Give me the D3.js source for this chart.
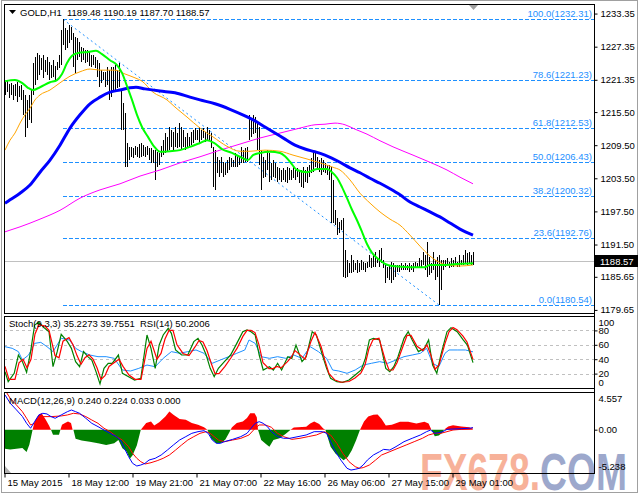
<!DOCTYPE html>
<html><head><meta charset="utf-8">
<script src="https://cdn.jsdelivr.net/npm/d3@7/dist/d3.min.js"></script>
<style>
html,body{margin:0;padding:0;background:#fff;}
svg{display:block;font-family:"Liberation Sans",Arial,sans-serif;}
</style></head><body>
<svg id="c" width="640" height="495"></svg>
<script>
// ---------------- DATA ----------------
const symbolTitle = "GOLD,H1  1189.48 1190.19 1187.70 1188.57";
const lastPrice = 1188.57;

const highs = [
1220.9,1221.3,1220.6,1220.8,1220.4,1220.6,1220.9,1220.2,1220.4,1219.5,
1218.6,1217.7,1218.6,1219.5,1224.4,1225.5,1226.2,1225.8,1225.3,1225.8,
1224.9,1225.5,1224.6,1224.0,1224.9,1223.8,1224.6,1225.8,1230.4,1232.31,
1230.7,1230.4,1231.3,1230.9,1229.8,1229.1,1228.9,1228.2,1227.3,1227.1,
1226.7,1226.7,1226.4,1225.8,1225.8,1225.5,1224.9,1224.4,1223.1,1222.8,
1222.8,1223.7,1223.1,1223.7,1223.7,1224.0,1223.1,1224.4,1219.5,1217.1,
1215.3,1209.9,1209.2,1209.2,1209.0,1209.3,1209.2,1209.7,1209.9,1209.5,
1209.2,1209.3,1209.0,1209.0,1208.6,1208.6,1208.3,1208.1,1209.3,1210.4,
1211.7,1211.0,1212.8,1212.2,1211.9,1212.8,1211.7,1213.5,1212.8,1212.2,
1211.0,1211.7,1211.0,1211.9,1212.2,1212.6,1212.2,1212.8,1212.2,1212.6,
1211.9,1212.8,1212.2,1211.7,1209.2,1208.6,1207.4,1206.8,1207.4,1206.4,
1206.3,1206.8,1207.4,1207.2,1206.8,1208.1,1207.7,1207.4,1209.2,1208.6,
1209.0,1209.2,1215.0,1214.1,1215.0,1214.6,1213.5,1212.8,1208.6,1207.4,
1206.8,1208.6,1208.1,1206.3,1206.8,1206.3,1205.5,1205.4,1205.0,1205.4,
1205.0,1205.5,1205.4,1205.0,1205.5,1205.0,1205.4,1205.0,1205.0,1205.5,
1205.0,1205.5,1205.9,1207.2,1208.6,1208.1,1207.4,1206.8,1207.2,1206.8,
1206.3,1205.9,1205.9,1205.5,1203.2,1197.8,1196.3,1195.6,1195.9,1196.3,
1190.5,1188.7,1188.1,1189.6,1188.7,1188.1,1188.7,1188.1,1188.7,1188.3,
1188.1,1188.3,1189.6,1189.1,1189.6,1190.1,1189.1,1190.5,1190.9,1188.7,
1188.1,1187.4,1187.8,1188.3,1188.1,1187.8,1187.8,1187.8,1188.1,1187.8,
1188.1,1187.8,1188.1,1187.8,1188.1,1188.3,1188.1,1189.1,1188.7,1190.1,
1189.6,1192.0,1189.2,1188.1,1190.1,1188.7,1189.2,1189.6,1188.7,1188.7,
1188.7,1189.1,1188.3,1189.1,1188.7,1189.2,1188.3,1189.6,1188.7,1189.6,
1190.5,1190.0,1190.1,1189.6,1190.19
];
const lows = [
1218.6,1219.1,1218.0,1218.6,1217.7,1218.4,1217.3,1218.2,1217.7,1215.0,
1211.0,1212.6,1214.1,1213.5,1218.6,1220.4,1221.3,1222.2,1223.1,1221.7,
1222.8,1222.2,1221.3,1221.7,1221.8,1221.3,1223.1,1223.5,1224.0,1227.6,
1226.7,1227.1,1228.0,1228.6,1223.7,1222.6,1224.9,1225.5,1224.6,1224.9,
1224.4,1224.6,1223.8,1223.7,1224.0,1223.5,1221.8,1220.0,1220.8,1221.3,
1220.0,1220.4,1217.7,1218.2,1219.1,1219.5,1219.9,1220.0,1212.2,1212.2,
1205.5,1205.5,1206.8,1207.4,1207.2,1207.7,1207.4,1207.2,1207.4,1207.5,
1207.4,1207.7,1206.8,1206.3,1206.3,1203.2,1205.5,1205.9,1207.4,1207.7,
1208.1,1208.3,1208.6,1209.2,1208.6,1209.2,1209.0,1209.2,1208.6,1209.2,
1208.6,1209.2,1209.2,1209.5,1209.9,1210.4,1210.4,1209.9,1210.4,1210.8,
1210.1,1210.4,1210.4,1209.0,1201.9,1201.4,1204.5,1203.7,1204.5,1203.7,
1204.1,1204.5,1205.0,1205.5,1205.5,1205.5,1205.5,1205.9,1206.3,1206.3,
1206.4,1206.4,1210.4,1211.0,1211.5,1211.7,1208.6,1205.9,1201.4,1203.5,
1203.7,1205.0,1202.8,1203.2,1203.7,1203.5,1202.8,1203.2,1202.8,1203.2,
1202.8,1202.6,1203.2,1203.2,1203.5,1203.2,1203.7,1202.6,1201.9,1201.7,
1202.8,1202.6,1203.7,1204.5,1204.6,1205.5,1205.0,1204.6,1204.1,1204.6,
1204.5,1204.1,1203.2,1195.4,1195.4,1195.0,1193.2,1193.6,1194.1,1185.6,
1185.4,1185.6,1186.3,1186.3,1186.5,1186.9,1186.3,1186.5,1186.9,1186.9,
1186.5,1187.2,1187.4,1187.2,1187.4,1187.4,1188.1,1187.4,1188.1,1187.2,
1184.5,1185.4,1185.1,1184.5,1185.1,1185.6,1186.5,1186.5,1186.9,1186.9,
1186.9,1186.9,1186.5,1186.9,1186.5,1187.2,1187.2,1187.4,1187.2,1187.8,
1186.9,1185.6,1186.0,1186.3,1186.9,1185.1,1185.6,1180.54,1183.3,1186.9,
1187.4,1187.8,1187.2,1187.4,1187.4,1187.8,1187.4,1187.4,1187.8,1187.8,
1188.1,1187.8,1188.1,1187.8,1187.70
];

// moving averages: [bar index, price]
const maGreen = [[0,1221.1],[5,1221.3],[8.5,1220.8],[11.5,1219.9],[14,1219.5],[17.5,1220.0],[22.5,1220.9],[26,1221.3],[28.5,1222.4],[31,1224.4],[33.5,1225.7],[36.5,1226.2],[41.5,1226.4],[45.5,1226.6],[48.5,1226.0],[52.5,1224.9],[56,1224.0],[58.5,1222.6],[61,1220.2],[63.5,1217.7],[66,1215.0],[68.5,1212.8],[71.5,1211.0],[74.5,1209.3],[77.5,1208.3],[82.5,1208.4],[87.5,1208.6],[92.5,1209.2],[97.5,1209.9],[101,1210.4],[104.5,1209.9],[108.5,1208.8],[113.5,1208.1],[118.5,1207.2],[121.5,1206.8],[124,1207.7],[127.5,1208.1],[132.5,1208.3],[137.5,1208.1],[140,1207.5],[142.5,1206.5],[146,1205.0],[151,1204.6],[156,1205.2],[161,1205.2],[163.5,1204.6],[166,1203.6],[168.5,1201.9],[171,1199.9],[173.5,1197.8],[176,1195.9],[178.5,1193.8],[181,1191.6],[183.5,1190.0],[186.5,1188.9],[190,1188.0],[193.5,1187.6],[202.5,1187.4],[210,1187.4],[212.5,1187.8],[220,1187.8],[227.5,1188.0],[234,1188.1]];
const maOrange = [[0,1208.6],[2.5,1210.4],[5,1211.7],[7.5,1213.5],[10,1215.0],[12.5,1216.2],[15,1217.7],[17.5,1218.6],[22.5,1219.5],[27.5,1220.8],[32.5,1222.0],[37.5,1222.8],[42.5,1223.3],[47.5,1223.1],[55,1223.1],[60,1222.4],[65,1221.7],[68.5,1221.1],[74,1219.1],[81,1217.7],[85,1216.4],[91,1214.6],[97.5,1212.6],[104,1211.0],[111,1209.3],[117.5,1208.4],[122.5,1208.4],[130,1208.6],[137.5,1208.4],[144,1207.7],[151,1207.0],[157.5,1206.3],[164,1205.5],[167.5,1205.0],[172.5,1203.2],[177.5,1200.8],[182.5,1199.0],[187.5,1197.4],[192.5,1196.1],[197.5,1195.0],[202.5,1193.2],[207.5,1191.2],[212.5,1189.4],[216,1188.5],[221,1187.8],[227.5,1187.6],[234,1187.8]];
const maBlue = [[0,1199.0],[2.5,1199.6],[7.5,1200.8],[12.5,1202.3],[17.5,1204.6],[22.5,1206.8],[27.5,1209.5],[32.5,1212.6],[37.5,1215.0],[42.5,1217.0],[47.5,1218.2],[52.5,1219.1],[57.5,1219.5],[62.5,1219.9],[65.5,1220.0],[70,1219.7],[77.5,1219.3],[85,1219.0],[92.5,1218.2],[97.5,1217.7],[105,1217.0],[112.5,1216.0],[120,1214.8],[125,1213.9],[130,1212.8],[135,1211.7],[140,1210.6],[145,1209.5],[150,1208.8],[155,1208.3],[160,1207.7],[167.5,1206.4],[172.5,1205.4],[177.5,1204.5],[182.5,1203.5],[187.5,1202.6],[192.5,1201.6],[197.5,1200.5],[202.5,1199.2],[207.5,1198.3],[212.5,1197.4],[217.5,1196.5],[222.5,1195.4],[227.5,1194.3],[234,1193.2]];
const maMagenta = [[0,1193.8],[7.5,1194.7],[17.5,1196.1],[27.5,1197.7],[37.5,1199.9],[47.5,1201.4],[57.5,1202.5],[67.5,1203.9],[77.5,1205.0],[87.5,1206.3],[97.5,1207.4],[107.5,1208.6],[117.5,1209.7],[127.5,1210.8],[137.5,1211.7],[147.5,1212.6],[155,1213.2],[160,1213.3],[165,1213.5],[170,1213.2],[175,1212.4],[181,1211.5],[187.5,1210.3],[194,1209.2],[204,1207.7],[212.5,1206.4],[221,1205.0],[227.5,1203.7],[234,1202.5]];

// Fibonacci retracement (anchored high bar -> low bar)
const fibLevels = ["100.0","78.6","61.8","50.0","38.2","23.6","0.0"];
const fibPrices = [1232.31,1221.23,1212.53,1206.43,1200.32,1192.76,1180.54];
const fibHighIdx = 29, fibLowIdx = 217;

const priceTicks = [1233.35,1227.35,1221.35,1215.50,1209.50,1203.50,1197.50,1191.50,1185.65,1179.65];

const timeIdx = [0,32,64,96,128,160,192,224];
const timeLabels = ["15 May 2015","18 May 12:00","19 May 21:00","21 May 07:00","22 May 16:00","26 May 06:00","27 May 15:00","29 May 01:00"];

// Stochastic (9,3,3) and RSI(14): [bar index, value]
const stochLabel = "Stoch(9,3,3) 35.2273 39.7551  RSI(14) 50.2006";
const stochMain = [[0,22.7],[1.6,8.8],[4.6,20.4],[6.7,45.8],[8.7,36.6],[10.8,21.8],[12.8,50.5],[14.8,87.5],[16.9,91.2],[19.9,82.9],[22,78.2],[24,29.6],[26.1,50.5],[28.1,74.5],[31.2,64.4],[33.2,55.1],[35.3,36.6],[37.3,29.6],[39.3,50.5],[41.4,43.5],[43.4,38.9],[45.5,22.7],[47.5,5.6],[49.5,27.3],[51.6,34.3],[53.6,34.3],[56.7,45.8],[58.7,20.4],[61.8,15.7],[64.8,11.1],[67.9,13.4],[71,73.6],[73,55.1],[75.1,27.3],[77.1,59.7],[79.1,73.6],[81.6,82.9],[83.2,75.9],[85.3,52.8],[88.3,45.8],[91.4,45.8],[94.4,64.4],[96.5,69.0],[98.5,59.7],[100.6,45.8],[102.6,27.3],[104.6,15.7],[106.7,27.3],[109.7,36.6],[112.8,45.8],[115.9,62.0],[118.9,78.2],[121,80.6],[123,78.2],[125.1,73.6],[127.1,45.8],[129.1,25.0],[132.2,29.6],[134.2,25.0],[136.3,34.3],[138.3,25.0],[141.4,43.5],[143.4,41.2],[145.5,59.7],[148.5,36.6],[150.6,43.5],[153.6,78.2],[155.7,73.6],[158.7,45.8],[160.8,27.3],[162.8,13.4],[165.9,8.8],[168.9,7.9],[172,11.1],[175.1,18.1],[178.1,25.0],[180.2,41.2],[182.2,66.7],[184.2,69.0],[187.3,66.7],[190.4,27.3],[192.4,22.7],[194.4,29.6],[196.5,43.5],[199.5,69.0],[201.6,78.2],[203.6,66.7],[206.7,50.5],[209.7,55.1],[211.8,66.7],[213.8,31.9],[215.9,20.4],[217.9,45.8],[221,78.2],[223,83.8],[226.1,78.2],[229.1,66.7],[231.2,59.7],[234,35.2]];
const stochSignal = [[0,30],[2,12],[5,12],[7,35],[9,40],[11,28],[13,40],[15,75],[17,88],[20,86],[22,80],[25,45],[27,42],[29,65],[32,70],[34,60],[36,45],[38,33],[40,42],[42,46],[44,40],[46,28],[48,12],[50,17],[52,30],[54,34],[57,40],[59,30],[62,18],[65,12],[68,12],[71,55],[73,65],[76,40],[78,48],[80,68],[82,80],[84,80],[86,60],[89,48],[92,45],[95,57],[97,66],[99,64],[101,52],[103,35],[105,20],[107,20],[110,30],[113,42],[116,55],[119,72],[121,80],[123,80],[125,77],[127,60],[129,35],[132,27],[134,27],[136,30],[138,28],[141,36],[143,42],[145,52],[148,45],[150,40],[153,65],[155,77],[158,58],[160,38],[162,20],[165,11],[168,8],[172,9],[175,14],[178,21],[180,32],[182,55],[184,67],[187,69],[190,40],[192,25],[194,25],[196,35],[199,58],[201,73],[203,73],[206,58],[209,52],[211,60],[213,45],[215,26],[217,32],[220,62],[222,78],[224,84],[226,81],[229,72],[231,64],[234,39.8]];
const rsi = [[0,57.4],[3.6,55.1],[6.7,50.5],[8.7,38.9],[11.8,45.8],[14.8,62.0],[17.9,63.4],[21,57.4],[24,50.5],[28.1,69.0],[32.2,66.7],[35.3,55.1],[38.3,50.5],[42.4,45.8],[46.5,43.5],[50.6,43.5],[54.6,41.2],[58.7,25.0],[62.8,23.6],[66.9,27.3],[71,31.9],[75.1,29.6],[79.1,41.2],[83.2,50.5],[87.3,48.2],[91.4,50.5],[95.5,52.8],[99.5,48.2],[103.6,34.3],[107.7,38.9],[111.8,43.5],[115.9,48.2],[119.9,52.8],[122,66.7],[125.1,62.0],[128.1,43.5],[132.2,41.2],[136.3,43.5],[140.4,41.2],[144.4,45.8],[148.5,41.2],[152.6,57.4],[156.7,50.5],[160.8,41.2],[163.8,25.0],[166.9,23.6],[171,20.4],[175.1,25.0],[179.1,31.9],[183.2,34.3],[187.3,36.6],[191.4,34.3],[195.5,38.9],[199.5,43.5],[203.6,45.8],[207.7,48.2],[210.8,55.1],[213.8,34.3],[216.9,29.6],[220,48.2],[222,52.8],[226.1,52.8],[230.2,52.8],[234,50.2]];
const stochTicks = [100,80,60,40,20,0];
const stochGrid = [80,60,40,20];

// MACD(12,26,9)
const macdLabel = "MACD(12,26,9) 0.240 0.224 0.033 0.000";
const macdTicks = [4.557,0,-5.238];
const macdHist = [[0,-2.3],[2.6,-2.4],[5.7,-2.3],[8.7,-2.2],[10.8,-2.7],[12.2,-1.8],[13.8,0],[14.8,1.0],[16.9,1.8],[18.3,2.0],[20.4,1.2],[22,0.5],[23,0],[24,-0.6],[27,-0.6],[27.7,0],[28.5,0.6],[30,0.8],[31.5,1.0],[33,0.8],[33.8,0],[34.2,0],[35.3,-1.1],[38.3,-1.3],[42.4,-1.45],[46.5,-1.65],[50.6,-1.85],[54.6,-1.65],[56.7,-1.25],[58.7,-2.25],[60.8,-2.65],[62.4,-3.5],[63.8,-3.1],[65.9,-1.9],[67.9,0],[68.9,0.3],[70.6,0.8],[73,1.0],[74.6,0.5],[77.1,0.9],[80.2,1.6],[82.2,2.2],[84.2,1.8],[87.3,1.3],[90.4,1.2],[93.4,0.8],[96.5,0.6],[99.5,0.3],[101.2,0],[103.2,-1.1],[105.7,-1.65],[108.1,-1.6],[110.2,-1.2],[112.2,-0.3],[112.8,0],[113.5,0.3],[115.9,0.8],[118.9,1.0],[121,1.4],[122.6,2.0],[124.8,2.0],[125.9,1.5],[126.5,0],[128.1,-1.25],[130.6,-1.75],[132.2,-2.05],[134.2,-1.25],[137.3,-1.05],[140.4,-0.5],[142.8,0],[144.4,0.25],[150.6,0.35],[152.6,0.75],[154.6,1.0],[157.1,0.7],[159.1,0.15],[160.2,0],[162.8,-2.05],[165.3,-2.9],[167.3,-3.3],[169.3,-3.7],[171.4,-3.3],[173.4,-2.5],[175.5,-1.3],[177.5,0],[179.5,1.0],[181.6,1.6],[184.2,1.8],[186.3,1.85],[188.3,1.3],[190.4,0.5],[193.4,0.6],[197.5,0.95],[201.6,0.95],[205.7,0.75],[209.7,0.95],[211.8,0.75],[213.2,0],[214.9,-0.8],[216.9,-0.7],[218.9,-0.3],[219.5,0],[221.6,0.4],[224,0.55],[228.1,0.4],[232.2,0.3],[234,0.033]];
const macdMain = [[0,4.2],[2.6,3.2],[5.7,2.4],[8.7,1.6],[10.8,0.77],[12.8,0.17],[14.8,0.97],[16.9,1.78],[18.9,1.98],[21,1.9],[23,1.58],[25.1,1.38],[28.1,1.78],[31.2,2.18],[33.2,2.38],[35.3,2.18],[37.3,1.98],[40.4,1.38],[43.4,0.77],[46.5,0.37],[49.5,-0.04],[52.6,-0.44],[55.7,-0.84],[57.7,-1.25],[59.7,-2.25],[61.8,-3.26],[63.8,-4.07],[65.9,-4.39],[67.9,-4.27],[70,-4.07],[72,-3.67],[75.1,-3.46],[78.1,-3.06],[81.2,-2.46],[84.2,-1.85],[87.3,-1.25],[90.4,-0.84],[93.4,-0.44],[96.5,-0.24],[99.5,-0.12],[101.6,-0.44],[103.6,-1.25],[105.7,-1.65],[107.7,-1.65],[109.7,-1.45],[113.8,-1.17],[117.9,-0.84],[121,-0.44],[123,0.17],[125.1,0.77],[127.1,0.97],[129.1,0.77],[131.2,0.37],[133.2,-0.24],[136.3,-0.84],[139.3,-1.04],[142.4,-1.04],[146.5,-0.84],[150.6,-0.64],[154.6,-0.24],[158.7,-0.24],[160.8,-0.44],[162.8,-1.45],[164.8,-2.46],[167.9,-3.67],[171,-4.67],[173,-4.88],[175.1,-4.79],[177.1,-4.67],[179.1,-4.27],[181.2,-3.67],[184.2,-3.06],[187.3,-2.66],[189.3,-2.38],[192.4,-2.46],[195.5,-2.05],[199.5,-1.45],[203.6,-1.04],[207.7,-0.64],[210.8,-0.24],[212.8,-0.04],[214.9,-0.44],[216.9,-0.36],[218.9,-0.24],[221,0.04],[224,0.08],[228.1,0.12],[232.2,0.18],[234,0.24]];
const macdSignal = [[0,4.8],[2.6,3.79],[5.7,2.99],[8.7,2.18],[10.8,1.38],[12.8,0.57],[14.8,0.77],[16.9,1.38],[18.9,1.58],[23,1.58],[28.1,1.66],[31.2,1.78],[34.2,1.98],[37.3,1.9],[40.4,1.58],[43.4,1.17],[46.5,0.77],[49.5,0.17],[52.6,-0.24],[55.7,-0.84],[58.7,-1.25],[61.8,-2.05],[63.8,-2.86],[65.9,-3.46],[67.9,-3.87],[70,-4.15],[73,-3.99],[76.1,-3.75],[79.1,-3.46],[82.2,-3.06],[85.3,-2.46],[88.3,-1.85],[91.4,-1.25],[94.4,-0.84],[97.5,-0.44],[100.6,-0.24],[102.6,-0.44],[104.6,-0.84],[106.7,-1.25],[109.7,-1.45],[113.8,-1.25],[117.9,-1.05],[122,-0.64],[125.1,0.17],[127.1,0.57],[130.2,0.57],[133.2,0.29],[136.3,-0.44],[139.3,-0.84],[143.4,-1.17],[147.5,-1.04],[151.6,-0.84],[155.7,-0.64],[159.7,-0.24],[162.8,-0.64],[165.9,-1.65],[168.9,-2.86],[172,-3.87],[175.1,-4.47],[177.1,-4.67],[179.1,-4.59],[182.2,-4.27],[185.3,-3.67],[188.3,-3.06],[192.4,-2.66],[196.5,-2.25],[200.6,-1.85],[204.6,-1.45],[208.7,-1.04],[211.8,-0.64],[214.9,-0.44],[217.9,-0.44],[221,-0.24],[224,-0.04],[228.1,0.04],[232.2,0.1],[234,0.22]];

// ---------------- LAYOUT ----------------
const svg = d3.select("#c");
const L = 4, R = 594;
const main = {top:4, bottom:313};
const sub1 = {top:316, bottom:388};
const sub2 = {top:392, bottom:473};

const x = d3.scaleLinear().domain([0,234]).range([5,473]);
const yP = d3.scaleLinear().domain([1180.54,1232.31]).range([305,19.3]);
const yS = d3.scaleLinear().domain([0,100]).range([sub1.bottom, sub1.top]);
const yM = d3.scaleLinear().domain([-5.238,4.557]).range([sub2.bottom, sub2.top]);

svg.append("rect").attr("width",640).attr("height",495).attr("fill","#fff");

const defs = svg.append("defs");
[["clipMain",main],["clipS",sub1],["clipM",sub2]].forEach(([id,p])=>{
  defs.append("clipPath").attr("id",id).append("rect")
    .attr("x",L).attr("y",p.top).attr("width",R-L).attr("height",p.bottom-p.top);
});

const gMain = svg.append("g").attr("clip-path","url(#clipMain)");
const FIB = "#1e90ff";

// fib horizontal lines
gMain.selectAll(".fib").data(fibPrices).enter().append("line")
  .attr("x1",x(fibHighIdx)).attr("x2",R)
  .attr("y1",d=>Math.round(yP(d))+0.5).attr("y2",d=>Math.round(yP(d))+0.5)
  .attr("stroke",FIB).attr("stroke-width",1).attr("stroke-dasharray","4,2");
// fib trend line
gMain.append("line")
  .attr("x1",x(fibHighIdx)).attr("y1",yP(fibPrices[0]))
  .attr("x2",x(fibLowIdx)).attr("y2",yP(fibPrices[fibPrices.length-1]))
  .attr("stroke",FIB).attr("stroke-width",1).attr("stroke-dasharray","2,3");

// last price line
gMain.append("line").attr("x1",L).attr("x2",R)
  .attr("y1",Math.round(yP(lastPrice))+0.5).attr("y2",Math.round(yP(lastPrice))+0.5)
  .attr("stroke","#c0c0c0");

// bars
gMain.selectAll(".bar").data(highs).enter().append("line")
  .attr("x1",(d,i)=>Math.round(x(i))+0.5).attr("x2",(d,i)=>Math.round(x(i))+0.5)
  .attr("y1",d=>yP(d)).attr("y2",(d,i)=>yP(lows[i]))
  .attr("stroke","#000").attr("stroke-width",1).attr("shape-rendering","crispEdges");

const lineP = d3.line().x(d=>x(d[0])).y(d=>yP(d[1])).curve(d3.curveMonotoneX);
gMain.append("path").attr("d",lineP(maMagenta)).attr("fill","none").attr("stroke","#ff00ff").attr("stroke-width",1);
gMain.append("path").attr("d",lineP(maOrange)).attr("fill","none").attr("stroke","#ffa500").attr("stroke-width",1);
gMain.append("path").attr("d",lineP(maBlue)).attr("fill","none").attr("stroke","#0000ff").attr("stroke-width",3);
gMain.append("path").attr("d",lineP(maGreen)).attr("fill","none").attr("stroke","#00ff00").attr("stroke-width",2);

// fib labels
svg.selectAll(".fibt").data(fibPrices).enter().append("text")
  .attr("x",R-2).attr("y",d=>Math.round(yP(d))-2)
  .attr("text-anchor","end").attr("font-size","9.5px").attr("fill",FIB)
  .text((d,i)=>fibLevels[i]+"("+d.toFixed(2)+")");

// title
svg.append("path").attr("d","M9,10 L16,10 L12.5,14 Z").attr("fill","#000");
svg.append("text").attr("x",20).attr("y",16).attr("font-size","9.5px").attr("fill","#000")
  .attr("xml:space","preserve").text(symbolTitle);
// chart shift marker
svg.append("path").attr("d","M469,5 L478,5 L473.5,10 Z").attr("fill","#a0a0a0");

// ---------- Stoch panel ----------
const gS = svg.append("g").attr("clip-path","url(#clipS)");
gS.selectAll(".sg").data(stochGrid).enter().append("line")
  .attr("x1",L).attr("x2",R).attr("y1",d=>Math.round(yS(d))+0.5).attr("y2",d=>Math.round(yS(d))+0.5)
  .attr("stroke","#c0c0c0").attr("stroke-dasharray","3,3");
const lineS = d3.line().x(d=>x(d[0])).y(d=>yS(d[1]));
gS.append("path").attr("d",lineS(rsi)).attr("fill","none").attr("stroke","#1e90ff").attr("stroke-width",1);
gS.append("path").attr("d",lineS(stochMain)).attr("fill","none").attr("stroke","#008000").attr("stroke-width",1.2);
gS.append("path").attr("d",lineS(stochSignal)).attr("fill","none").attr("stroke","#ff0000").attr("stroke-width",1.2);
svg.append("text").attr("x",9).attr("y",327).attr("font-size","9.5px").attr("xml:space","preserve").text(stochLabel);

// ---------- MACD panel ----------
const gM = svg.append("g").attr("clip-path","url(#clipM)");
const areaPos = d3.area().x(d=>x(d[0])).y0(yM(0)).y1(d=>yM(Math.max(0,d[1])));
const areaNeg = d3.area().x(d=>x(d[0])).y0(yM(0)).y1(d=>yM(Math.min(0,d[1])));
gM.append("path").attr("d",areaPos(macdHist)).attr("fill","#ff0000");
gM.append("path").attr("d",areaNeg(macdHist)).attr("fill","#008000");
const lineM = d3.line().x(d=>x(d[0])).y(d=>yM(d[1]));
gM.append("path").attr("d",lineM(macdSignal)).attr("fill","none").attr("stroke","#ff0000").attr("stroke-width",1);
gM.append("path").attr("d",lineM(macdMain)).attr("fill","none").attr("stroke","#0000ff").attr("stroke-width",1);
svg.append("text").attr("x",9).attr("y",404).attr("font-size","9.5px").text(macdLabel);
svg.append("path").attr("d","M5,466 L5,473 L11,473 Z").attr("fill","#b0b0b0");

// ---------- watermark ----------
const wm = svg.append("text").attr("x",420).attr("y",490)
  .attr("font-family","'Liberation Sans',Arial,sans-serif").attr("font-weight","bold")
  .attr("font-size","52px").attr("textLength",207).attr("lengthAdjust","spacingAndGlyphs")
  .attr("opacity",0.85);
wm.append("tspan").attr("fill","#f6a488").text("FX678.");
wm.append("tspan").attr("fill","#8c9ac4").text("COM");

// ---------- frames ----------
[main,sub1,sub2].forEach(p=>{
  svg.append("rect").attr("x",L+0.5).attr("y",p.top+0.5).attr("width",R-L).attr("height",p.bottom-p.top)
    .attr("fill","none").attr("stroke","#000").attr("stroke-width",1);
});
svg.append("rect").attr("x",1.5).attr("y",0.5).attr("width",636).attr("height",492)
  .attr("fill","none").attr("stroke","#a0a0a0");

// ---------- axes ----------
const axP = svg.append("g").attr("transform",`translate(${R+0.5},0)`)
  .call(d3.axisRight(yP).tickValues(priceTicks).tickSize(3).tickPadding(3).tickFormat(d=>d.toFixed(2)));
const axS = svg.append("g").attr("transform",`translate(${R+0.5},0)`)
  .call(d3.axisRight(yS).tickValues(stochTicks).tickSize(3).tickPadding(1).tickFormat(d=>String(d)));
const axM = svg.append("g").attr("transform",`translate(${R+0.5},0)`)
  .call(d3.axisRight(yM).tickValues(macdTicks).tickSize(3).tickPadding(1).tickFormat(d=>d===0?"0.00":String(d)));
[axP,axS,axM].forEach(a=>{
  a.select(".domain").remove();
  a.selectAll("text").attr("font-size","9.5px").attr("font-family","'Liberation Sans',Arial,sans-serif").attr("fill","#000");
  a.selectAll("line").attr("stroke","#000");
});
axS.selectAll(".tick").filter(d=>d===100).select("text").attr("dy","0.95em");
axS.selectAll(".tick").filter(d=>d===0).select("text").attr("dy","-0.3em");
axS.selectAll(".tick").filter(d=>d===100||d===0).select("line").remove();
axM.selectAll(".tick").filter(d=>d===4.557).select("text").attr("dy","0.95em");
axM.selectAll(".tick").filter(d=>d===-5.238).select("text").attr("dy","-0.35em");
axM.selectAll(".tick").filter(d=>d!==0).select("line").remove();
svg.append("line").attr("x1",R+0.5).attr("x2",R+0.5).attr("y1",main.top).attr("y2",sub2.bottom).attr("stroke","#000");

// current price box
const yc = Math.round(yP(lastPrice));
svg.append("rect").attr("x",R+1).attr("y",yc-6).attr("width",43).attr("height",12).attr("fill","#000");
svg.append("text").attr("x",R+6).attr("y",yc+3.5).attr("font-size","9.5px").attr("fill","#fff").text(lastPrice.toFixed(2));

// time axis
const axT = svg.append("g").attr("transform",`translate(0,${sub2.bottom+0.5})`)
  .call(d3.axisBottom(x).tickValues(timeIdx).tickSize(4).tickFormat((d,i)=>timeLabels[i]));
axT.select(".domain").remove();
axT.selectAll("line").attr("stroke","#000").attr("transform","translate(-0.5,0)");
axT.selectAll("text").attr("text-anchor","start").attr("x",2).attr("y",6).attr("dy","0.71em")
  .attr("font-size","9.5px").attr("font-family","'Liberation Sans',Arial,sans-serif").attr("fill","#000");
</script>
</body></html>
